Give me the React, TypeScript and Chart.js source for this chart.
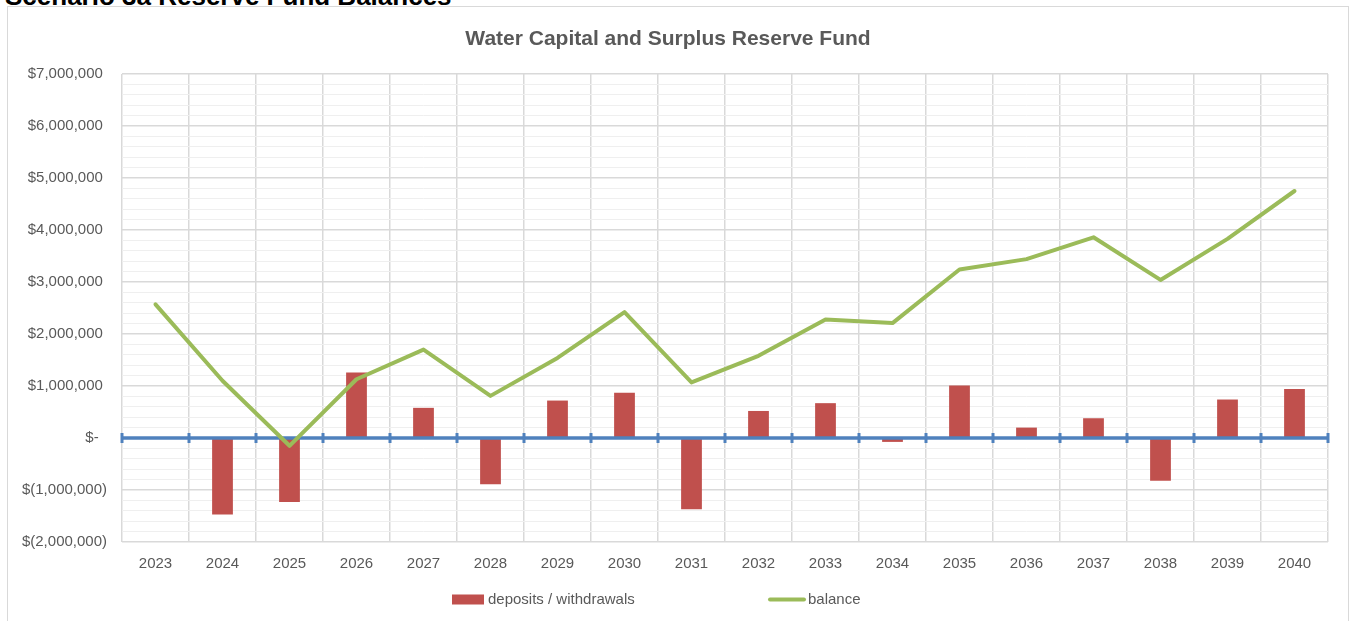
import React, { useEffect, useRef } from 'react';
import { Chart, registerables } from 'chart.js';

Chart.register(...registerables);

const pageHeading = 'Scenario 3a Reserve Fund Balances';
const chartTitle = 'Water Capital and Surplus Reserve Fund';

const years = ['2023', '2024', '2025', '2026', '2027', '2028', '2029', '2030', '2031', '2032', '2033', '2034', '2035', '2036', '2037', '2038', '2039', '2040'];

const depositsWithdrawals: (number | null)[] = [null, -1470000, -1230000, 1260000, 580000, -890000, 720000, 870000, -1370000, 520000, 670000, -75000, 1010000, 200000, 380000, -820000, 740000, 940000];

const balance = [2570000, 1100000, -150000, 1130000, 1700000, 810000, 1540000, 2420000, 1070000, 1580000, 2280000, 2210000, 3240000, 3440000, 3860000, 3040000, 3830000, 4750000];

const seriesLabels = ['deposits / withdrawals', 'balance'];

const yMin = -2000000;
const yMax = 7000000;
const yMinorStep = 200000;
const yMajorStep = 1000000;

const FONT = '"Liberation Sans", Arial, sans-serif';
const TEXT_COLOR = '#595959';
const BAR_COLOR = '#C0504D';
const LINE_COLOR = '#9BBB59';
const AXIS_COLOR = '#4F81BD';

function formatAccounting(v: number): string {
  if (Math.round(v) === 0) return '$-  ';
  const s = Math.abs(v).toLocaleString('en-US');
  return v < 0 ? `$(${s})` : `$${s} `;
}

const zeroAxisPlugin = {
  id: 'zeroAxis',
  beforeDatasetDraw(chart: any, args: any) {
    if (args.index !== 1) return;
    const { ctx, chartArea } = chart;
    const y0 = chart.scales.y.getPixelForValue(0);
    ctx.save();
    ctx.strokeStyle = AXIS_COLOR;
    ctx.lineWidth = 3.5;
    ctx.beginPath();
    ctx.moveTo(chartArea.left, y0);
    ctx.lineTo(chartArea.right, y0);
    ctx.stroke();
    const n = years.length;
    const w = (chartArea.right - chartArea.left) / n;
    ctx.lineWidth = 3;
    for (let i = 0; i <= n; i++) {
      const x = chartArea.left + i * w;
      ctx.beginPath();
      ctx.moveTo(x, y0 - 5);
      ctx.lineTo(x, y0 + 5);
      ctx.stroke();
    }
    ctx.restore();
  },
};

const legendPlugin = {
  id: 'excelLegend',
  afterDraw(chart: any) {
    const { ctx } = chart;
    ctx.save();
    ctx.font = `15px ${FONT}`;
    ctx.fillStyle = TEXT_COLOR;
    ctx.textBaseline = 'middle';
    ctx.textAlign = 'left';
    const yc = 592.5;
    ctx.fillStyle = BAR_COLOR;
    ctx.fillRect(444, yc - 5, 32, 10);
    ctx.fillStyle = TEXT_COLOR;
    ctx.fillText(seriesLabels[0], 480, yc);
    ctx.strokeStyle = LINE_COLOR;
    ctx.lineWidth = 4;
    ctx.lineCap = 'round';
    ctx.beginPath();
    ctx.moveTo(762, yc);
    ctx.lineTo(796, yc);
    ctx.stroke();
    ctx.fillText(seriesLabels[1], 800, yc);
    ctx.restore();
  },
};

export default function App() {
  const canvasRef = useRef<HTMLCanvasElement | null>(null);

  useEffect(() => {
    document.body.style.margin = '0';
    const canvas = canvasRef.current;
    if (!canvas) return;
    Chart.defaults.font.family = FONT;
    const isMajor = (v: number) => Math.round(v) % yMajorStep === 0;
    const chart = new Chart(canvas, {
      type: 'bar',
      data: {
        labels: years,
        datasets: [
          {
            type: 'bar',
            label: seriesLabels[0],
            data: depositsWithdrawals,
            backgroundColor: BAR_COLOR,
            borderWidth: 0,
            categoryPercentage: 1,
            barPercentage: 0.31,
            order: 1,
          },
          {
            type: 'line',
            label: seriesLabels[1],
            data: balance,
            borderColor: LINE_COLOR,
            backgroundColor: LINE_COLOR,
            borderWidth: 4,
            pointRadius: 0,
            tension: 0,
            borderCapStyle: 'round',
            borderJoinStyle: 'round',
            order: 0,
          },
        ] as any,
      },
      options: {
        responsive: false,
        animation: false,
        layout: { padding: { left: 0, right: 20, top: 0, bottom: 0 } },
        plugins: {
          legend: { display: false },
          tooltip: { enabled: false },
          title: {
            display: true,
            text: chartTitle,
            color: TEXT_COLOR,
            font: { size: 21, weight: 'bold', family: FONT },
            padding: { top: 19.9, bottom: 21.9 },
          },
        },
        scales: {
          x: {
            afterFit: (s: any) => { s.height = 79; },
            border: { display: false },
            grid: { offset: true, drawTicks: false, color: '#d9d9d9', lineWidth: 1.5 },
            ticks: { padding: 13, color: TEXT_COLOR, font: { size: 15 }, maxRotation: 0, autoSkip: false },
          },
          y: {
            min: yMin,
            max: yMax,
            afterFit: (s: any) => { s.width = 114; },
            border: { display: false },
            grid: {
              drawTicks: false,
              color: (c: any) => (c.tick && isMajor(c.tick.value) ? '#d9d9d9' : '#efefef'),
              lineWidth: (c: any) => (c.tick && isMajor(c.tick.value) ? 1.5 : 1),
            },
            ticks: {
              stepSize: yMinorStep,
              autoSkip: false,
              padding: 15,
              color: TEXT_COLOR,
              font: { size: 15 },
              callback: (v: any) => (isMajor(Number(v)) ? formatAccounting(Number(v)) : ''),
            },
          },
        },
      } as any,
      plugins: [zeroAxisPlugin, legendPlugin],
    });
    return () => chart.destroy();
  }, []);

  return (
    <div style={{ position: 'relative', width: 1349, height: 621, overflow: 'hidden', background: '#fff' }}>
      <div
        style={{
          position: 'absolute',
          left: 5,
          top: -17.5,
          fontFamily: FONT,
          fontWeight: 'bold',
          fontSize: 26,
          lineHeight: '26px',
          color: '#000',
          whiteSpace: 'nowrap',
        }}
      >
        {pageHeading}
      </div>
      <div
        style={{
          position: 'absolute',
          left: 7,
          top: 6,
          width: 1340,
          height: 640,
          border: '1px solid #d9d9d9',
          background: '#fff',
        }}
      >
        <canvas ref={canvasRef} width={1340} height={614} style={{ display: 'block' }} />
      </div>
    </div>
  );
}
